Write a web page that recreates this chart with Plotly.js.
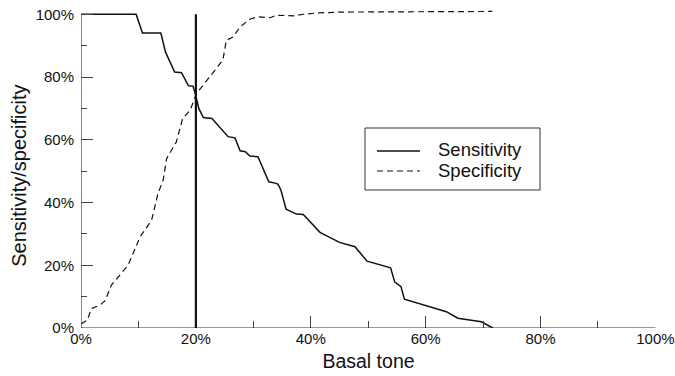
<!DOCTYPE html>
<html>
<head>
<meta charset="utf-8">
<script src="https://cdn.plot.ly/plotly-3.0.1.min.js"></script>
<style>html,body{margin:0;padding:0;background:#fff;}#chart{width:675px;height:376px;}</style>
</head>
<body>
<div id="chart"></div>
<script>
// Basal tone (%) and sensitivity (%)
var sensX = [0, 9.6, 10.7, 13.9, 14.7, 15.8, 16.3, 17.5, 18.7, 19.5, 20.0, 20.5, 21.3, 22.8, 25.6, 26.8, 27.7, 28.6, 29.4, 30.8, 32.7, 34.0, 34.3, 34.8, 35.7, 37.5, 38.7, 41.6, 45.0, 47.7, 49.8, 53.9, 54.6, 55.7, 56.3, 63.6, 65.6, 69.7, 71.7];
var sensY = [100, 100, 94, 94, 88, 83.2, 81.6, 81.4, 77.2, 77.1, 74, 70, 67.1, 66.8, 61, 60.6, 56.5, 56.2, 54.8, 54.6, 46.6, 46.1, 45.8, 44, 37.9, 36.3, 36.2, 30.5, 27.3, 25.9, 21.3, 19.2, 14.7, 13.2, 9.2, 5.2, 3.1, 2, 0];
// Basal tone (%) and specificity (%)
var specX = [0, 1.1, 1.8, 3.3, 4.2, 5.3, 6.5, 8.2, 10.3, 12.3, 13.4, 14.3, 14.9, 16.6, 17.7, 19.0, 20.1, 24.7, 25.3, 26.5, 27.7, 29.4, 30.8, 32.9, 34.0, 37.2, 38.7, 41.0, 45.0, 71.6];
var specY = [1.3, 2.5, 6.2, 7.3, 8.7, 13.7, 16.3, 20, 29.1, 34.4, 42.9, 47.1, 54, 59.3, 66.8, 69.4, 74.7, 85.4, 91.7, 92.8, 96, 98.4, 99.2, 98.9, 99.7, 99.5, 100, 100.4, 100.7, 100.9];
var cutoff = 20;
var seriesNames = ["Sensitivity", "Specificity"];
var xTicks = [0, 20, 40, 60, 80, 100];
var xTickText = ["0%", "20%", "40%", "60%", "80%", "100%"];
var yTicks = [0, 20, 40, 60, 80, 100];
var yTickText = ["0%", "20%", "40%", "60%", "80%", "100%"];
var minorTicks = [10, 30, 50, 70, 90];
var xTitle = "Basal tone";
var yTitle = "Sensitivity/specificity";

var FONT = "Liberation Sans, Arial, Helvetica, sans-serif";
var INK = "#111";

var traces = [
  {x: sensX, y: sensY, mode: "lines", name: seriesNames[0], line: {color: INK, width: 1.5}, showlegend: false},
  {x: specX, y: specY, mode: "lines", name: seriesNames[1], line: {color: INK, width: 1.2, dash: "6px,4px"}, showlegend: false}
];

// manual legend geometry (paper coords)
var lg = {x0: 0.4939, x1: 0.7983, y0: 0.43125, y1: 0.625, lx0: 0.5148, lx1: 0.5896, ly: [0.5531, 0.4906], tx: 0.6191, ty: [0.557, 0.491]};

var layout = {
  width: 675, height: 376,
  margin: {l: 81, r: 19, t: 8, b: 48},
  paper_bgcolor: "#fff", plot_bgcolor: "#fff",
  font: {family: FONT, color: INK, size: 15},
  showlegend: false,
  xaxis: {
    range: [0, 100.1], showline: false, showgrid: false, zeroline: false,
    ticks: "inside", ticklen: 12, tickwidth: 1, tickcolor: "#444",
    tickvals: xTicks, ticktext: xTickText,
    tickfont: {size: 15, family: FONT, color: INK},
    minor: {tickvals: minorTicks, ticks: "inside", ticklen: 7, tickcolor: "#444", showgrid: false},
    title: {text: xTitle, font: {size: 19.5, family: FONT, color: INK}, standoff: 8}
  },
  yaxis: {
    range: [0, 102], showline: false, showgrid: false, zeroline: false,
    ticks: "inside", ticklen: 12, tickwidth: 1, tickcolor: "#444",
    tickvals: yTicks, ticktext: yTickText,
    ticklabelstandoff: 6,
    tickfont: {size: 15, family: FONT, color: INK},
    minor: {tickvals: minorTicks, ticks: "inside", ticklen: 6, tickcolor: "#444", showgrid: false}
  },
  shapes: [
    {type: "line", xref: "x", yref: "y", x0: 0, x1: 100, y0: 0, y1: 0, line: {color: "#333", width: 1.2}},
    {type: "line", xref: "x", yref: "y", x0: 0, x1: 0, y0: 0, y1: 100, line: {color: "#333", width: 1.2}},
    {type: "line", xref: "x", yref: "y", x0: cutoff, x1: cutoff, y0: 0, y1: 100, line: {color: INK, width: 2.2}},
    {type: "rect", xref: "paper", yref: "paper", x0: lg.x0, x1: lg.x1, y0: lg.y0, y1: lg.y1, line: {color: "#333", width: 1}, fillcolor: "rgba(0,0,0,0)"},
    {type: "line", xref: "paper", yref: "paper", x0: lg.lx0, x1: lg.lx1, y0: lg.ly[0], y1: lg.ly[0], line: {color: INK, width: 1.5}},
    {type: "line", xref: "paper", yref: "paper", x0: lg.lx0, x1: lg.lx1, y0: lg.ly[1], y1: lg.ly[1], line: {color: INK, width: 1.2, dash: "6px,4px"}}
  ],
  annotations: [
    {xref: "paper", yref: "paper", x: lg.tx, y: lg.ty[0], xanchor: "left", yanchor: "middle", text: seriesNames[0], showarrow: false, font: {size: 18.5, family: FONT, color: INK}, borderpad: 0},
    {xref: "paper", yref: "paper", x: lg.tx, y: lg.ty[1], xanchor: "left", yanchor: "middle", text: seriesNames[1], showarrow: false, font: {size: 18.5, family: FONT, color: INK}, borderpad: 0},
    {xref: "paper", yref: "y", x: -0.108, y: 48.5, xanchor: "center", yanchor: "middle", textangle: -90, text: yTitle, showarrow: false, font: {size: 20, family: FONT, color: INK}, borderpad: 0}
  ]
};

Plotly.newPlot("chart", traces, layout, {staticPlot: true, displayModeBar: false});
</script>
</body>
</html>
